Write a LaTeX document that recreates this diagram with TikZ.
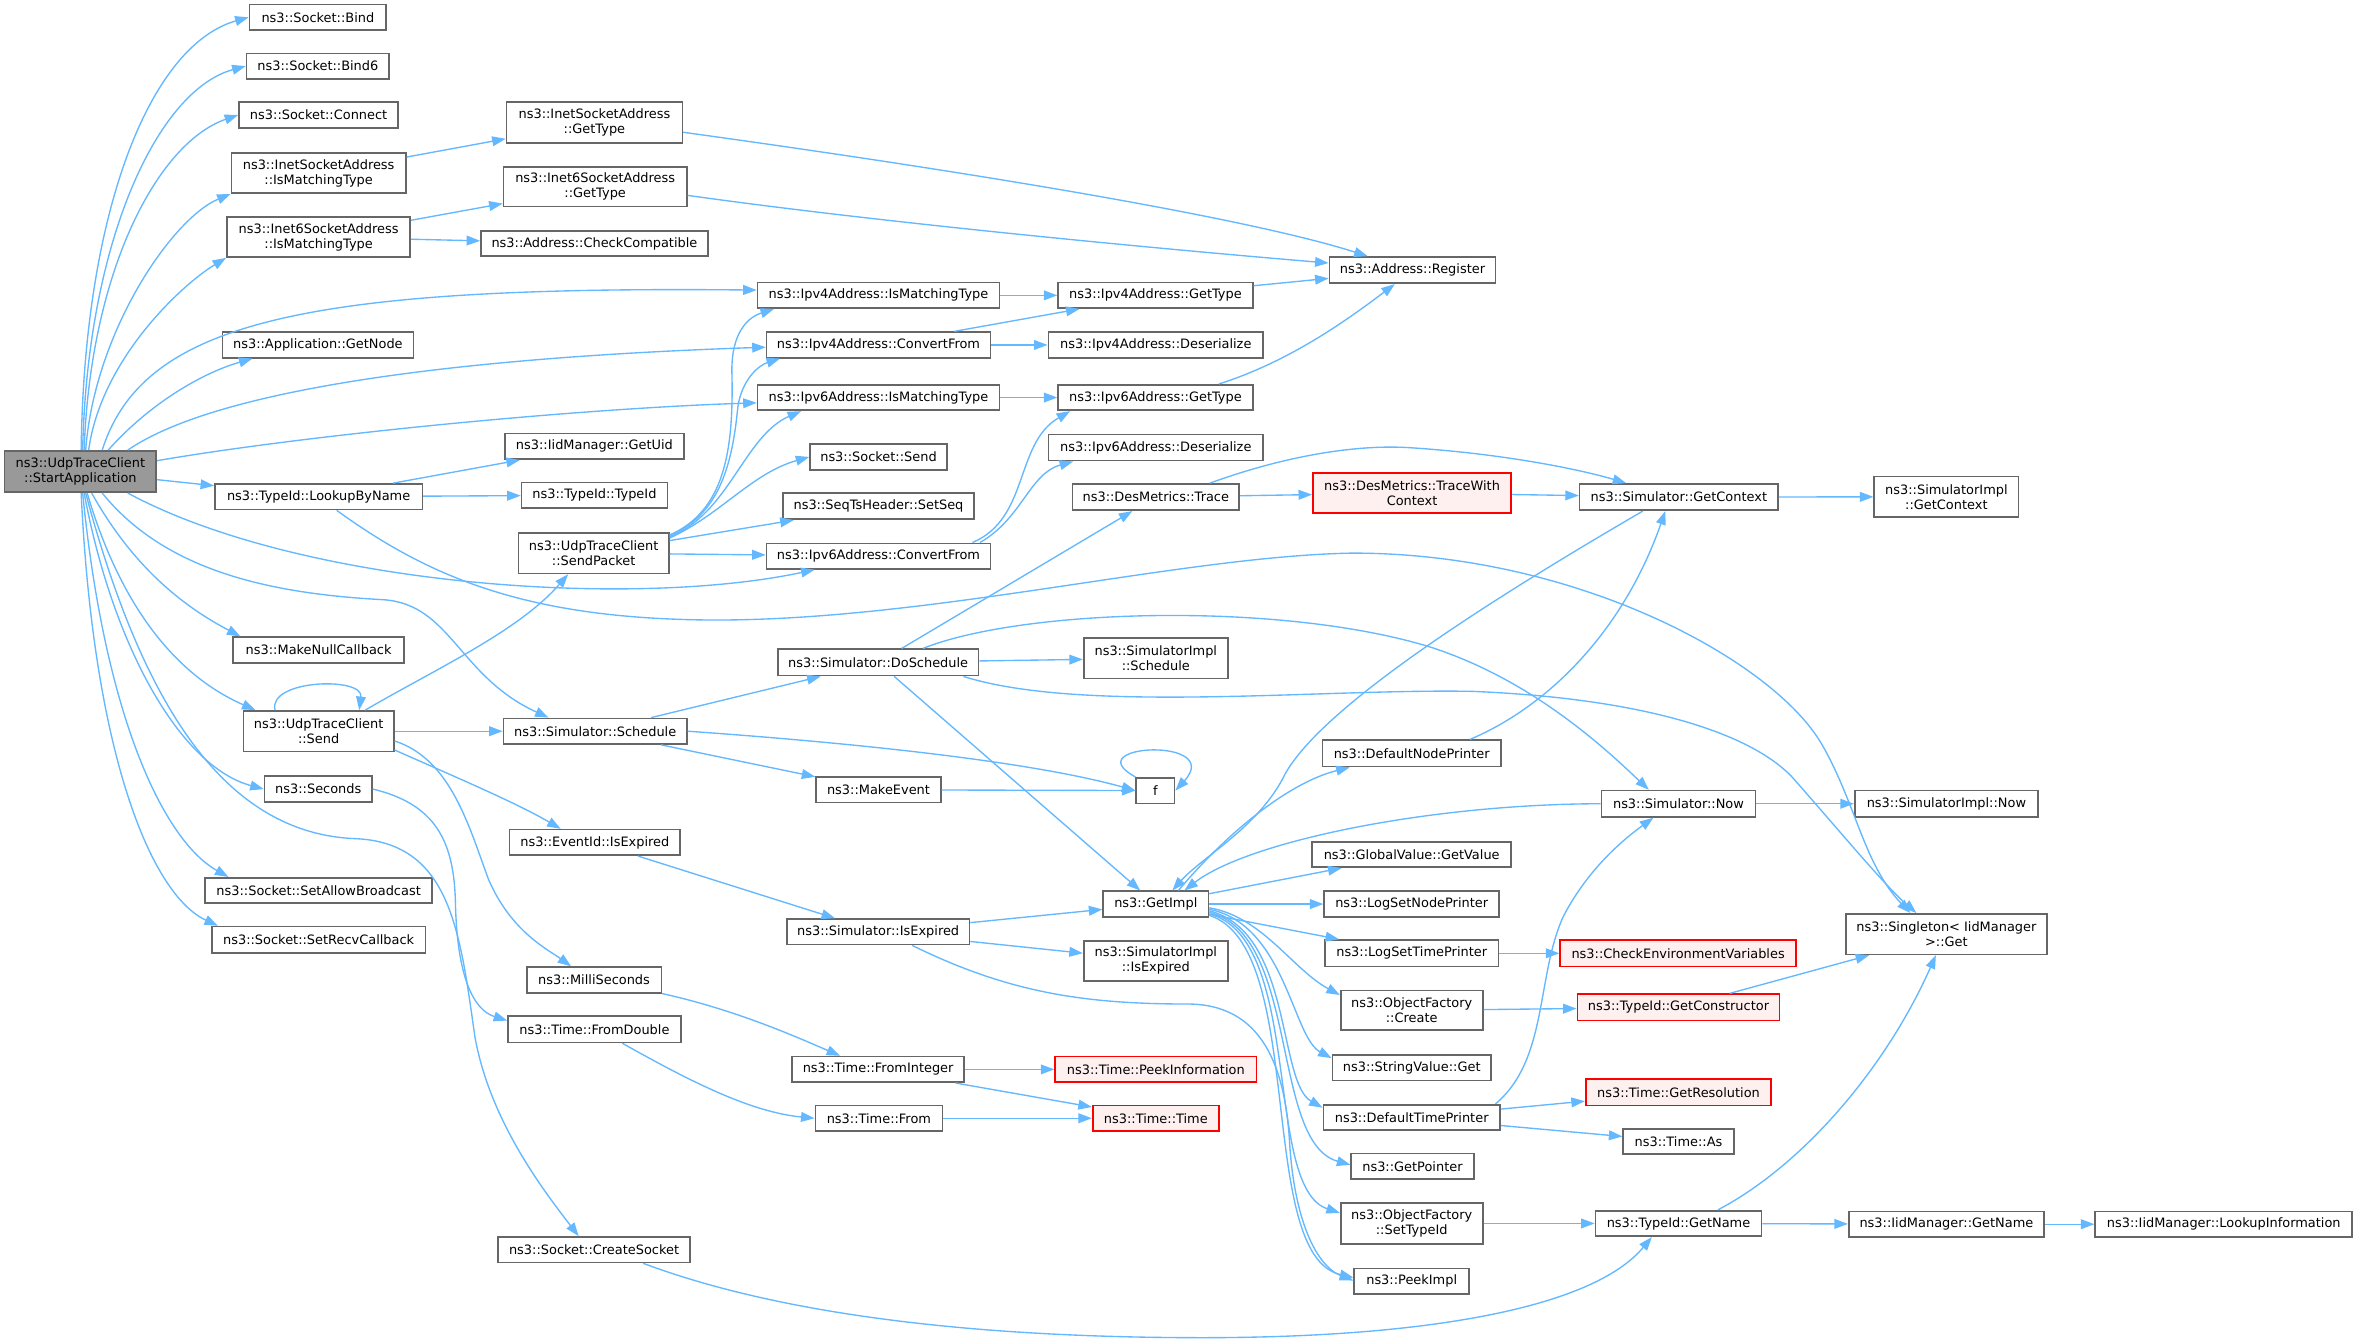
\documentclass[tikz,border=0pt]{standalone}
\usepackage{fontspec}
\setmainfont{DejaVu Sans}
\usetikzlibrary{arrows.meta,calc}
\definecolor{edgeblue}{HTML}{63B8FF}
\definecolor{boxgray}{HTML}{666666}
\definecolor{rootgray}{HTML}{999999}
\definecolor{missred}{HTML}{FF0000}
\definecolor{missfill}{HTML}{FFF0F0}
\tikzset{
  fn/.style={rectangle, draw=boxgray, fill=white, line width=1.1pt, inner sep=0pt, align=center, font=\fontsize{8.6}{10}\selectfont},
  root/.style={fn, fill=rootgray},
  miss/.style={fn, draw=missred, fill=missfill},
  calls/.style={-{Triangle[length=9pt,width=6.5pt]}, draw=edgeblue, line width=0.9pt}
}
% box from its corners: [style]{name}{x1}{y1}{x2}{y2}{text}
\newcommand{\callnode}[7][fn]{%
  \node[#1, minimum width={#5-#3}, minimum height={#6-#4}] (#2) at ({(#3+#5)/2},{(#4+#6)/2}) {#7};}

\begin{document}
\begin{tikzpicture}[x=1pt, y=-1pt]
  \useasboundingbox (0,0) rectangle (1568.2,893.5);
  \fill[white] (0,0) rectangle (1568.2,893.5);

  % caller
  \callnode[root]{sa}{3}{300}{104}{327.5}{ns3::UdpTraceClient\\::StartApplication}

  % first column of callees
  \callnode{bind}{166}{3}{257}{20}{ns3::Socket::Bind}
  \callnode{bindsix}{164}{35.5}{259}{52.5}{ns3::Socket::Bind6}
  \callnode{connect}{159}{68}{265}{85}{ns3::Socket::Connect}
  \callnode{inetmatch}{154}{102}{270}{128.5}{ns3::InetSocketAddress\\::IsMatchingType}
  \callnode{inetsixmatch}{151}{144.5}{273}{171}{ns3::Inet6SocketAddress\\::IsMatchingType}
  \callnode{getnode}{148}{221}{275}{238}{ns3::Application::GetNode}
  \callnode{lookup}{143}{322}{281}{339}{ns3::TypeId::LookupByName}
  \callnode{nullcb}{155}{424}{269}{441}{ns3::MakeNullCallback}
  \callnode{send}{162}{473}{262}{500}{ns3::UdpTraceClient\\::Send}
  \callnode{seconds}{176}{516.5}{247.5}{533.5}{ns3::Seconds}
  \callnode{allowbc}{136.5}{584}{287.5}{601}{ns3::Socket::SetAllowBroadcast}
  \callnode{recvcb}{141}{616.5}{283}{634}{ns3::Socket::SetRecvCallback}

  % second column
  \callnode{inettype}{337}{68}{454}{95}{ns3::InetSocketAddress\\::GetType}
  \callnode{inetsixtype}{335}{111}{457}{137.5}{ns3::Inet6SocketAddress\\::GetType}
  \callnode{checkcomp}{320}{153.5}{471}{170.5}{ns3::Address::CheckCompatible}
  \callnode{getuid}{336}{288.5}{455}{305.5}{ns3::IidManager::GetUid}
  \callnode{typeid}{347}{321}{444}{338}{ns3::TypeId::TypeId}
  \callnode{sendpkt}{345}{354.5}{445}{381.5}{ns3::UdpTraceClient\\::SendPacket}
  \callnode{schedule}{335}{478}{457}{495}{ns3::Simulator::Schedule}
  \callnode{evexpired}{339}{552}{452.5}{569}{ns3::EventId::IsExpired}
  \callnode{millis}{350.5}{643.5}{440}{660.5}{ns3::MilliSeconds}
  \callnode{fromdouble}{338}{676}{453}{693.5}{ns3::Time::FromDouble}
  \callnode{createsock}{331.5}{823}{459}{840}{ns3::Socket::CreateSocket}

  % third column
  \callnode{vfourmatch}{504}{188}{665}{205}{ns3::Ipv4Address::IsMatchingType}
  \callnode{vfourconv}{510}{221}{659}{238}{ns3::Ipv4Address::ConvertFrom}
  \callnode{vsixmatch}{504}{256}{665}{273}{ns3::Ipv6Address::IsMatchingType}
  \callnode{socksend}{539}{295.5}{630}{312.5}{ns3::Socket::Send}
  \callnode{setseq}{521}{328}{648}{345.5}{ns3::SeqTsHeader::SetSeq}
  \callnode{vsixconv}{510}{361.5}{659}{378.5}{ns3::Ipv6Address::ConvertFrom}
  \callnode{doschedule}{517.5}{432}{651}{449.5}{ns3::Simulator::DoSchedule}
  \callnode{makeevent}{543}{517}{626}{534}{ns3::MakeEvent}
  \callnode{simexpired}{523.5}{611.5}{645}{628.5}{ns3::Simulator::IsExpired}
  \callnode{frominteger}{527}{703}{641.5}{720}{ns3::Time::FromInteger}
  \callnode{timefrom}{542.5}{735.5}{627}{752.5}{ns3::Time::From}

  % fourth column
  \callnode{vfourtype}{704}{188}{833.5}{205}{ns3::Ipv4Address::GetType}
  \callnode{vfourdeser}{697.5}{221}{840.5}{238}{ns3::Ipv4Address::Deserialize}
  \callnode{vsixtype}{704}{256}{833.5}{273}{ns3::Ipv6Address::GetType}
  \callnode{vsixdeser}{697.5}{289}{840.5}{306.5}{ns3::Ipv6Address::Deserialize}
  \callnode{trace}{713.5}{322}{824.5}{339.5}{ns3::DesMetrics::Trace}
  \callnode{implschedule}{721}{424.5}{817}{451.5}{ns3::SimulatorImpl\\::Schedule}
  \callnode{f}{756}{517.5}{781.5}{534.5}{f}
  \callnode{getimpl}{734}{593}{804}{610}{ns3::GetImpl}
  \callnode{implexpired}{721}{626}{817}{652.5}{ns3::SimulatorImpl\\::IsExpired}
  \callnode[miss]{peekinfo}{702}{703}{836}{720}{ns3::Time::PeekInformation}
  \callnode[miss]{timetime}{727}{735.5}{811}{752.5}{ns3::Time::Time}

  % fifth column
  \callnode{register}{884.5}{171}{995}{188.5}{ns3::Address::Register}
  \callnode[miss]{tracectx}{873.5}{314.5}{1005.5}{341.5}{ns3::DesMetrics::TraceWith\\Context}
  \callnode{nodeprinter}{880}{492.5}{998.5}{510}{ns3::DefaultNodePrinter}
  \callnode{globalval}{873}{560}{1005.5}{577}{ns3::GlobalValue::GetValue}
  \callnode{lognode}{881}{593}{997.5}{610}{ns3::LogSetNodePrinter}
  \callnode{logtime}{881.5}{625.5}{997}{643}{ns3::LogSetTimePrinter}
  \callnode{ofcreate}{892}{659}{986.5}{685.5}{ns3::ObjectFactory\\::Create}
  \callnode{stringget}{886.5}{702}{992}{719}{ns3::StringValue::Get}
  \callnode{timeprinter}{880.5}{735}{998}{752}{ns3::DefaultTimePrinter}
  \callnode{getpointer}{899}{767.5}{980.5}{784.5}{ns3::GetPointer}
  \callnode{settypeid}{892}{800.5}{986.5}{827.5}{ns3::ObjectFactory\\::SetTypeId}
  \callnode{peekimpl}{901}{844}{977.5}{861}{ns3::PeekImpl}

  % sixth column
  \callnode{getcontext}{1051}{322}{1183}{339.5}{ns3::Simulator::GetContext}
  \callnode{simnow}{1065.5}{526}{1168}{543.5}{ns3::Simulator::Now}
  \callnode[miss]{checkenv}{1038}{625.5}{1195}{643}{ns3::CheckEnvironmentVariables}
  \callnode[miss]{getctor}{1049.5}{661.5}{1184}{679}{ns3::TypeId::GetConstructor}
  \callnode[miss]{getres}{1055}{718}{1178.5}{735.5}{ns3::Time::GetResolution}
  \callnode{timeas}{1080}{751}{1153.5}{768}{ns3::Time::As}
  \callnode{getname}{1061.5}{805.5}{1172}{822.5}{ns3::TypeId::GetName}

  % last columns
  \callnode{implctx}{1247}{317}{1343}{344}{ns3::SimulatorImpl\\::GetContext}
  \callnode{implnow}{1234}{526}{1356}{543.5}{ns3::SimulatorImpl::Now}
  \callnode{singleton}{1228}{608}{1362}{635}{ns3::Singleton< IidManager\\>::Get}
  \callnode{iidname}{1230}{806}{1360}{823}{ns3::IidManager::GetName}
  \callnode{lookupinfo}{1394}{806}{1565}{823}{ns3::IidManager::LookupInformation}

  % straight calls
  \foreach \a/\b in {sa/lookup, lookup/getuid, lookup/typeid, inetmatch/inettype,
      inetsixmatch/inetsixtype, inetsixmatch/checkcomp, vfourmatch/vfourtype,
      vfourtype/register, vfourconv/vfourtype, vfourconv/vfourdeser, vsixmatch/vsixtype,
      sendpkt/setseq, sendpkt/vsixconv, send/schedule, schedule/doschedule,
      schedule/makeevent, makeevent/f, doschedule/trace, doschedule/implschedule,
      doschedule/getimpl, trace/tracectx, tracectx/getcontext, getcontext/implctx,
      simnow/implnow, evexpired/simexpired, simexpired/getimpl, simexpired/implexpired,
      getimpl/globalval, getimpl/lognode, getimpl/logtime, logtime/checkenv,
      ofcreate/getctor, getctor/singleton, timeprinter/getres, timeprinter/timeas,
      frominteger/peekinfo, frominteger/timetime, timefrom/timetime,
      settypeid/getname, getname/iidname, iidname/lookupinfo}
    \draw[calls] (\a) -- (\b);

  % curved calls from the caller
  \draw[calls] (sa.north -| 54,0) .. controls (56,140) and (100,30) .. (bind.west);
  \draw[calls] (sa.north -| 55,0) .. controls (58,160) and (105,60) .. (bindsix.west);
  \draw[calls] (sa.north -| 56,0) .. controls (60,180) and (105,95) .. (connect.west);
  \draw[calls] (sa.north -| 57,0) .. controls (63,220) and (115,145) .. (inetmatch.south west);
  \draw[calls] (sa.north -| 59,0) .. controls (67,240) and (120,190) .. (inetsixmatch.south west);
  \draw[calls] (sa.north -| 68,0) .. controls (95,215) and (200,190) .. (vfourmatch.west |- 0,193);
  \draw[calls] (sa.north -| 72,0) .. controls (100,268) and (135,248) .. (getnode.south -| 168,0);
  \draw[calls] (sa.north -| 85,0) .. controls (150,255) and (330,237) .. (vfourconv.west |- 0,231);
  \draw[calls] (sa.east |- 0,306.5) .. controls (200,290) and (380,272) .. (vsixmatch.west |- 0,268);
  \draw[calls] (sa.south -| 85,0) .. controls (200,390) and (420,405) .. (vsixconv.south -| 542,0);
  \draw[calls] (sa.south -| 68,0) .. controls (110,380) and (180,395) .. (255,399)
    .. controls (300,402) and (305,450) .. (schedule.north -| 365,0);
  \draw[calls] (sa.south -| 61,0) .. controls (90,380) and (125,405) .. (nullcb.north -| 160,0);
  \draw[calls] (sa.south -| 58,0) .. controls (85,420) and (130,455) .. (send.north -| 170,0);
  \draw[calls] (sa.south -| 56,0) .. controls (75,430) and (120,510) .. (seconds.west);
  \draw[calls] (sa.south -| 55,0) .. controls (70,480) and (110,560) .. (allowbc.north -| 152,0);
  \draw[calls] (sa.south -| 54,0) .. controls (62,500) and (100,595) .. (recvcb.north -| 145,0);
  \draw[calls] (sa.south -| 57,0) .. controls (95,470) and (150,555) .. (237,558)
    .. controls (300,561) and (306,620) .. (316,690)
    .. controls (326,745) and (360,790) .. (createsock.north -| 385,0);

  % other curved calls
  \draw[calls] (lookup.south -| 224,0) .. controls (280,380) and (340,408) .. (450,412)
    .. controls (600,418) and (780,370) .. (900,368)
    .. controls (1050,368) and (1180,440) .. (1212,495)
    .. controls (1235,535) and (1240,575) .. (singleton.north -| 1271,0);
  \draw[calls] (send.north -| 183,0) .. controls (178,452) and (242,450) .. (send.north -| 239,0);
  \draw[calls] (send.north -| 243,0) .. controls (290,445) and (345,420) .. (sendpkt.south -| 378,0);
  \draw[calls] (send.east |- 0,499) .. controls (310,520) and (345,535) .. (evexpired.north -| 373,0);
  \draw[calls] (send.east |- 0,493) .. controls (300,505) and (312,550) .. (325,585)
    .. controls (340,620) and (365,632) .. (millis.north -| 380,0);
  \draw[calls] (seconds.east) .. controls (290,535) and (302,560) .. (303,600)
    .. controls (304,650) and (315,672) .. (fromdouble.west |- 0,679);
  \draw[calls] (inettype.east |- 0,88) .. controls (650,115) and (830,145) .. (register.north -| 910,0);
  \draw[calls] (inetsixtype.east |- 0,130) .. controls (600,150) and (800,168) .. (register.west |- 0,175);
  \draw[calls] (vsixtype.north -| 811,0) .. controls (860,240) and (900,210) .. (register.south -| 928,0);
  \draw[calls] (vsixconv.north -| 647,0) .. controls (685,345) and (675,295) .. (vsixtype.south -| 712,0);
  \draw[calls] (vsixconv.north -| 652,0) .. controls (680,345) and (685,315) .. (vsixdeser.south -| 714,0);
  \draw[calls] (sendpkt.east |- 0,356) .. controls (482,340) and (488,300) .. (487,250)
    .. controls (486,225) and (495,212) .. (vfourmatch.south -| 515,0);
  \draw[calls] (sendpkt.east |- 0,356) .. controls (482,342) and (488,300) .. (491,270)
    .. controls (494,252) and (505,243) .. (vfourconv.south -| 519,0);
  \draw[calls] (sendpkt.east |- 0,357) .. controls (485,342) and (495,290) .. (vsixmatch.south -| 533,0);
  \draw[calls] (sendpkt.east |- 0,358) .. controls (480,342) and (500,315) .. (socksend.west);
  \draw[calls] (schedule.east) .. controls (550,493) and (680,505) .. (f.west);
  \draw[calls] (f.north west) .. controls (715,495) and (815,490) .. (f.east);
  \draw[calls] (doschedule.north -| 614,0) .. controls (680,405) and (850,400) .. (950,430)
    .. controls (1020,452) and (1070,500) .. (simnow.north -| 1097,0);
  \draw[calls] (doschedule.south -| 641,0) .. controls (720,475) and (880,458) .. (980,460)
    .. controls (1100,465) and (1170,490) .. (1195,520)
    .. controls (1230,560) and (1255,590) .. (singleton.north -| 1275,0);
  \draw[calls] (trace.north -| 805,0) .. controls (850,305) and (900,295) .. (940,298)
    .. controls (1000,302) and (1050,312) .. (getcontext.north -| 1082,0);
  \draw[calls] (getcontext.south -| 1093,0) .. controls (990,400) and (880,470) .. (855,515)
    .. controls (838,550) and (800,570) .. (getimpl.north -| 780,0);
  \draw[calls] (simnow.west) .. controls (950,535) and (830,560) .. (getimpl.north -| 788,0);
  \draw[calls] (getimpl.north -| 784,0) .. controls (820,550) and (860,520) .. (nodeprinter.south -| 898,0);
  \draw[calls] (nodeprinter.north -| 978,0) .. controls (1030,470) and (1080,420) .. (getcontext.south -| 1108,0);
  \draw[calls] (getimpl.east |- 0,604) .. controls (840,610) and (860,645) .. (ofcreate.west |- 0,662);
  \draw[calls] (getimpl.east |- 0,605) .. controls (855,615) and (860,690) .. (stringget.west |- 0,704);
  \draw[calls] (getimpl.east |- 0,606) .. controls (860,620) and (850,720) .. (timeprinter.west |- 0,737);
  \draw[calls] (getimpl.east |- 0,607) .. controls (865,622) and (845,760) .. (getpointer.west |- 0,775);
  \draw[calls] (getimpl.east |- 0,608) .. controls (868,625) and (840,790) .. (settypeid.west |- 0,807);
  \draw[calls] (getimpl.east |- 0,609) .. controls (870,630) and (835,835) .. (peekimpl.west |- 0,850);
  \draw[calls] (simexpired.south -| 607,0) .. controls (670,660) and (720,668) .. (790,668)
    .. controls (840,668) and (855,710) .. (858,760)
    .. controls (861,810) and (875,842) .. (peekimpl.west |- 0,852);
  \draw[calls] (millis.south east) .. controls (490,672) and (530,690) .. (frominteger.north -| 559,0);
  \draw[calls] (fromdouble.south -| 414,0) .. controls (460,720) and (500,740) .. (timefrom.west);
  \draw[calls] (timeprinter.north -| 995,0) .. controls (1030,705) and (1022,650) .. (1040,610)
    .. controls (1058,575) and (1085,555) .. (simnow.south -| 1100,0);
  \draw[calls] (getname.north -| 1143,0) .. controls (1200,775) and (1255,710) .. (singleton.south -| 1288,0);
  \draw[calls] (createsock.south -| 428,0) .. controls (520,875) and (650,890) .. (800,890)
    .. controls (950,890) and (1060,870) .. (getname.south -| 1099,0);
\end{tikzpicture}
\end{document}
